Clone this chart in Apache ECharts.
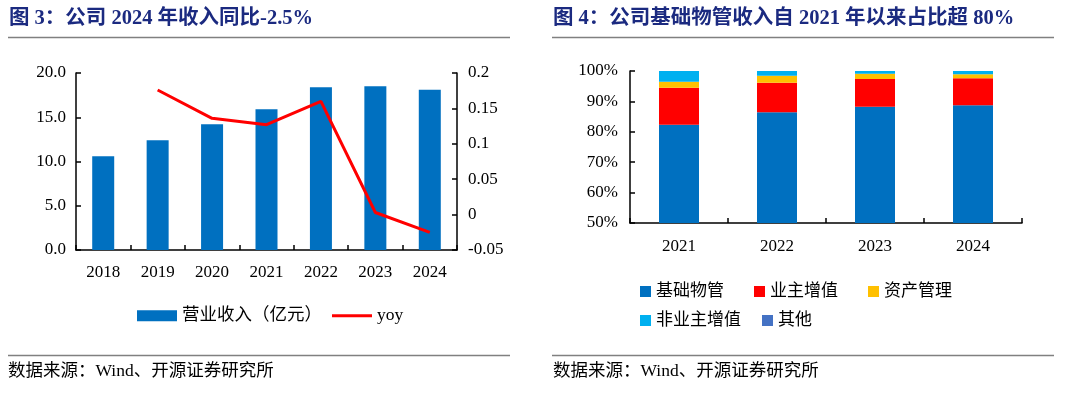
<!DOCTYPE html>
<html><head><meta charset="utf-8">
<script src="https://cdn.jsdelivr.net/npm/echarts@6/dist/echarts.min.js"></script>
<style>html,body{margin:0;padding:0;background:#fff}#c{width:1080px;height:393px}</style>
</head><body><div id="c"></div>
<script>
// Left chart data
const years1 = ['2018','2019','2020','2021','2022','2023','2024'];
const revenue = [10.6, 12.4, 14.2, 15.9, 18.4, 18.5, 18.1];
const yoy = ['-', 0.176, 0.136, 0.127, 0.160, 0.003, -0.025];
// Right chart data
const years2 = ['2021','2022','2023','2024'];
const basic = [82.3, 86.4, 88.2, 88.7];
const ownerVA = [12.2, 9.7, 9.2, 8.9];
const assetMgmt = [2.0, 2.3, 1.7, 1.3];
const nonOwnerVA = [3.5, 1.6, 0.9, 1.1];
const others = [0, 0, 0, 0];
const title1 = '图 3：公司 2024 年收入同比-2.5%';
const title2 = '图 4：公司基础物管收入自 2021 年以来占比超 80%';
const source = '数据来源：Wind、开源证券研究所';

const FF = "'Liberation Serif','Noto Sans CJK SC',serif";
const TXT = '#000';
const chart = echarts.init(document.getElementById('c'), null, {renderer:'canvas'});
const axisLine = {show:true, lineStyle:{color:'#000', width:1.5}};
const tick = {show:true, inside:true, length:5, lineStyle:{color:'#000', width:1.5}};
const lbl = {color:TXT, fontFamily:FF, fontSize:17};

function legendItem(name, left, top){
  return {show:true, data:[name], left:left, top:top, icon:'rect', itemWidth:11, itemHeight:11,
    itemGap:0, itemTextGap:6, padding:0, textStyle:{color:TXT, fontFamily:FF, fontSize:17}};
}

const option = {
  animation:false,
  backgroundColor:'#fff',
  grid:[
    {left:76, right:623, top:73, bottom:143},
    {left:630, right:58, top:71, bottom:170}
  ],
  xAxis:[
    {type:'category', gridIndex:0, data:years1, axisLine:axisLine, axisTick:tick,
     axisLabel:Object.assign({margin:14}, lbl)},
    {type:'category', gridIndex:1, data:years2, axisLine:axisLine, axisTick:tick,
     axisLabel:Object.assign({margin:15}, lbl)}
  ],
  yAxis:[
    {type:'value', gridIndex:0, min:0, max:20, interval:5, axisLine:axisLine, axisTick:tick,
     splitLine:{show:false}, axisLabel:Object.assign({margin:10, formatter:v=>v.toFixed(1)}, lbl)},
    {type:'value', gridIndex:0, min:-0.05, max:0.2, interval:0.05, position:'right', axisLine:axisLine, axisTick:tick,
     splitLine:{show:false}, axisLabel:Object.assign({margin:11, formatter:v=>String(+v.toFixed(2))}, lbl)},
    {type:'value', gridIndex:1, min:50, max:100, interval:10, axisLine:axisLine, axisTick:tick,
     splitLine:{show:false}, axisLabel:Object.assign({margin:12, formatter:v=>v+'%'}, lbl)}
  ],
  legend:[
    {show:true, symbolKeepAspect:true,
     data:[{name:'营业收入（亿元）', icon:'rect'}, {name:'yoy', icon:'path://M0,0H41V3H0Z'}],
     left:137, top:307, itemGap:10,
     itemWidth:40, itemHeight:11, itemTextGap:6, padding:0, textStyle:{color:TXT, fontFamily:FF, fontSize:17.5}},
    legendItem('基础物管', 640, 283),
    legendItem('业主增值', 754, 283),
    legendItem('资产管理', 868, 283),
    legendItem('非业主增值', 640, 312),
    legendItem('其他', 762, 312)
  ],
  series:[
    {name:'营业收入（亿元）', type:'bar', xAxisIndex:0, yAxisIndex:0, data:revenue, barWidth:22,
     itemStyle:{color:'#0070C0'}},
    {name:'yoy', type:'line', xAxisIndex:0, yAxisIndex:1, data:yoy, symbol:'none',
     lineStyle:{color:'#FF0000', width:3}, itemStyle:{color:'#FF0000'}},
    {name:'基础物管', type:'bar', stack:'s', xAxisIndex:1, yAxisIndex:2, data:basic, barWidth:40, itemStyle:{color:'#0070C0'}},
    {name:'业主增值', type:'bar', stack:'s', xAxisIndex:1, yAxisIndex:2, data:ownerVA, barWidth:40, itemStyle:{color:'#FF0000'}},
    {name:'资产管理', type:'bar', stack:'s', xAxisIndex:1, yAxisIndex:2, data:assetMgmt, barWidth:40, itemStyle:{color:'#FFC000'}},
    {name:'非业主增值', type:'bar', stack:'s', xAxisIndex:1, yAxisIndex:2, data:nonOwnerVA, barWidth:40, itemStyle:{color:'#00B0F0'}},
    {name:'其他', type:'bar', stack:'s', xAxisIndex:1, yAxisIndex:2, data:others, barWidth:40, itemStyle:{color:'#4472C4'}}
  ],
  graphic:[
    {type:'text', left:9, top:8, style:{text:title1, fill:'#1B2A80', font:"bold 20.5px "+FF}},
    {type:'text', left:553, top:8, style:{text:title2, fill:'#1B2A80', font:"bold 20.5px "+FF}},
    {type:'line', shape:{x1:8, y1:37.5, x2:510, y2:37.5}, style:{stroke:'#808080', lineWidth:1.5}},
    {type:'line', shape:{x1:552, y1:37.5, x2:1054, y2:37.5}, style:{stroke:'#808080', lineWidth:1.5}},
    {type:'line', shape:{x1:8, y1:355.5, x2:510, y2:355.5}, style:{stroke:'#808080', lineWidth:1.5}},
    {type:'line', shape:{x1:552, y1:355.5, x2:1054, y2:355.5}, style:{stroke:'#808080', lineWidth:1.5}},
    {type:'text', left:8, top:363, style:{text:source, fill:'#000', font:"17.5px "+FF}},
    {type:'text', left:553, top:363, style:{text:source, fill:'#000', font:"17.5px "+FF}}
  ]
};
chart.setOption(option);
</script></body></html>
